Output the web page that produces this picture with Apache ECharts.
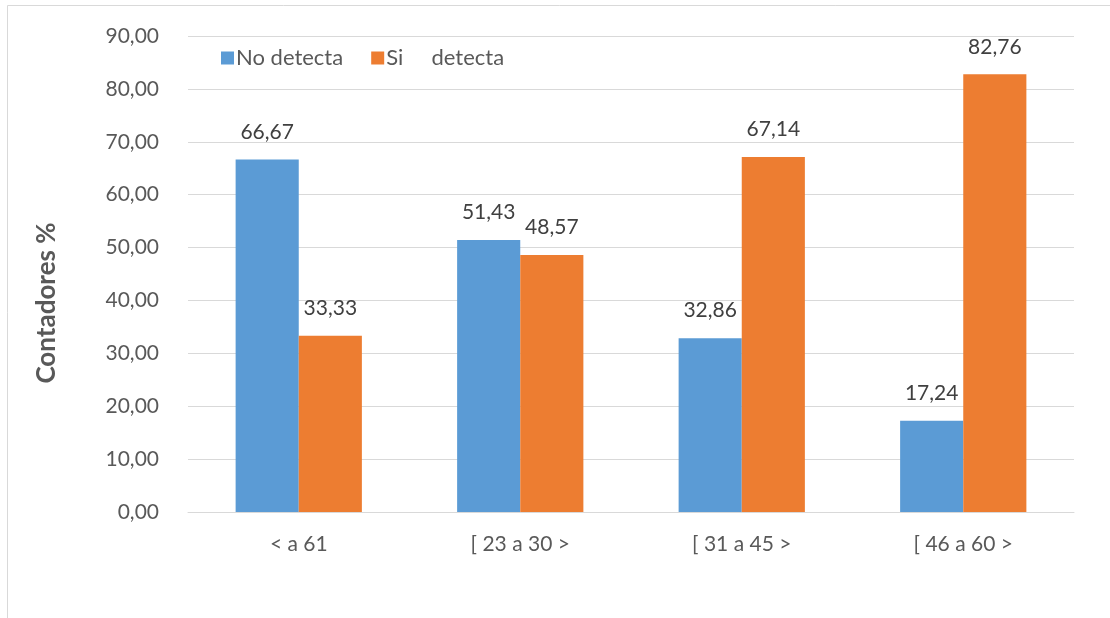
<!DOCTYPE html>
<html>
<head>
<meta charset="utf-8">
<script src="https://cdn.jsdelivr.net/npm/echarts@6/dist/echarts.min.js"></script>
<style>html,body{margin:0;padding:0;background:#fff;}#c{width:1110px;height:618px;}</style>
</head>
<body>
<div id="c"></div>
<script>
var categories = ['< a 61', '[ 23 a 30 >', '[ 31 a 45 >', '[ 46 a 60 >'];
var noDetecta = [66.67, 51.43, 32.86, 17.24];
var siDetecta = [33.33, 48.57, 67.14, 82.76];
var seriesNames = ['No detecta', 'Si     detecta'];
var yTitle = 'Contadores %';

var font = 'Lato, "Open Sans", sans-serif';
var txt = '#595959';
var chart = echarts.init(document.getElementById('c'), null, {renderer: 'canvas'});
function fmt(v){ return v.toFixed(2).replace('.', ','); }
chart.setOption({
  animation: false,
  backgroundColor: '#fff',
  graphic: [
    {type: 'rect', shape: {x: 7.5, y: 5.5, width: 1200, height: 700}, style: {fill: 'none', stroke: '#d9d9d9', lineWidth: 1}, silent: true},
    {type: 'text', x: 47, y: 303, rotation: Math.PI / 2, silent: true,
     style: {text: yTitle, align: 'center', verticalAlign: 'middle', fill: txt, font: 'bold 26px ' + font}}
  ],
  legend: {
    left: 216, top: 42, itemWidth: 13, itemHeight: 13, itemGap: 28, icon: 'rect',
    textStyle: {fontFamily: font, fontSize: 22, color: txt, padding: [0,0,0,-3]},
    data: seriesNames
  },
  grid: {left: 188, right: 36, top: 36, bottom: 106, containLabel: false},
  xAxis: {
    type: 'category', data: categories,
    axisLine: {lineStyle: {color: '#d9d9d9', width: 1}},
    axisTick: {show: false},
    axisLabel: {fontFamily: font, fontSize: 21, color: txt, margin: 22}
  },
  yAxis: {
    type: 'value', min: 0, max: 90, interval: 10,
    axisLine: {show: false}, axisTick: {show: false},
    splitLine: {lineStyle: {color: '#d9d9d9', width: 1}},
    axisLabel: {fontFamily: font, fontSize: 21, color: txt, margin: 29, formatter: fmt}
  },
  series: [
    {name: seriesNames[0], type: 'bar', data: noDetecta, barGap: '0%', barCategoryGap: '43%',
     itemStyle: {color: '#5b9bd5'},
     label: {show: true, position: 'top', distance: 17, fontFamily: font, fontSize: 21, color: '#404040', formatter: function(p){return fmt(p.value);}}},
    {name: seriesNames[1], type: 'bar', data: siDetecta, barGap: '0%', barCategoryGap: '43%',
     itemStyle: {color: '#ed7d31'},
     label: {show: true, position: 'top', distance: 17, fontFamily: font, fontSize: 21, color: '#404040', formatter: function(p){return fmt(p.value);}}}
  ]
});
</script>
</body>
</html>
